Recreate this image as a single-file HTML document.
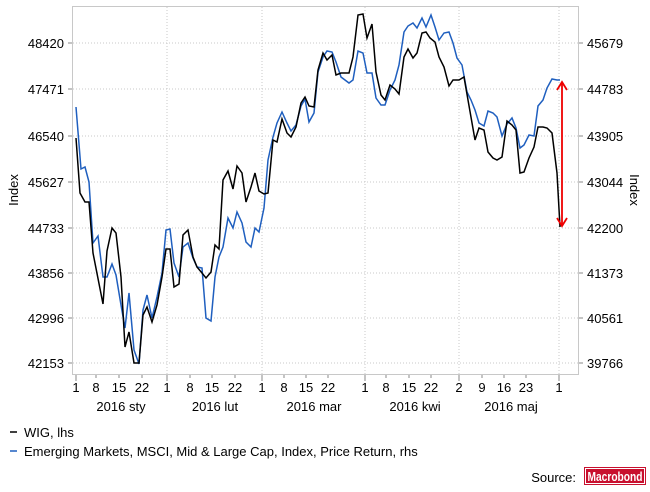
<!DOCTYPE html>
<html><head><meta charset="utf-8"><style>
body{margin:0;background:#fff;}
svg{display:block;font-family:"Liberation Sans",sans-serif;}
</style></head><body>
<svg width="650" height="492" viewBox="0 0 650 492" xmlns="http://www.w3.org/2000/svg">
<rect x="72.5" y="6.5" width="506" height="368" fill="none" stroke="#c8c8c8"/>
<g stroke="#c8c8c8" stroke-dasharray="1,2" fill="none">
<line x1="73" x2="578" y1="43" y2="43"/><line x1="73" x2="578" y1="89" y2="89"/>
<line x1="73" x2="578" y1="136" y2="136"/><line x1="73" x2="578" y1="182" y2="182"/>
<line x1="73" x2="578" y1="228" y2="228"/><line x1="73" x2="578" y1="273" y2="273"/>
<line x1="73" x2="578" y1="318" y2="318"/><line x1="73" x2="578" y1="363" y2="363"/>
<line x1="167" x2="167" y1="7" y2="374"/><line x1="262" x2="262" y1="7" y2="374"/>
<line x1="365" x2="365" y1="7" y2="374"/><line x1="459" x2="459" y1="7" y2="374"/>
<line x1="559" x2="559" y1="7" y2="374"/>
</g>
<g stroke="#888" fill="none">
<path d="M68 43h4M68 89h4M68 136h4M68 182h4M68 228h4M68 273h4M68 318h4M68 363h4"/>
<path d="M579 43h4M579 89h4M579 136h4M579 182h4M579 228h4M579 273h4M579 318h4M579 363h4"/>
<path d="M76 375v6M167 375v6M262 375v6M365 375v6M459 375v6M559 375v6M96 375v3M119 375v3M142 375v3M190 375v3M212 375v3M235 375v3M284 375v3M306 375v3M328 375v3M386 375v3M409 375v3M431 375v3M482 375v3M504 375v3M526 375v3"/>
</g>
<g font-size="13" fill="#000" text-anchor="end">
<text x="64" y="48">48420</text><text x="64" y="94">47471</text><text x="64" y="141">46540</text><text x="64" y="187">45627</text><text x="64" y="233">44733</text><text x="64" y="278">43856</text><text x="64" y="323">42996</text><text x="64" y="368">42153</text>
</g>
<g font-size="13" fill="#000">
<text x="587" y="48">45679</text><text x="587" y="94">44783</text><text x="587" y="141">43905</text><text x="587" y="187">43044</text><text x="587" y="233">42200</text><text x="587" y="278">41373</text><text x="587" y="323">40561</text><text x="587" y="368">39766</text>
</g>
<text font-size="13" transform="translate(18,190) rotate(-90)" text-anchor="middle">Index</text>
<text font-size="13" transform="translate(630,190) rotate(90)" text-anchor="middle">Index</text>
<g font-size="13" text-anchor="middle">
<text x="76" y="392">1</text><text x="96" y="392">8</text><text x="119" y="392">15</text><text x="142" y="392">22</text>
<text x="167" y="392">1</text><text x="190" y="392">8</text><text x="212" y="392">15</text><text x="235" y="392">22</text>
<text x="262" y="392">1</text><text x="284" y="392">8</text><text x="306" y="392">15</text><text x="328" y="392">22</text>
<text x="365" y="392">1</text><text x="386" y="392">8</text><text x="409" y="392">15</text><text x="431" y="392">22</text>
<text x="459" y="392">2</text><text x="482" y="392">9</text><text x="504" y="392">16</text><text x="526" y="392">23</text>
<text x="559" y="392">1</text>
<text x="121" y="411">2016 sty</text><text x="215" y="411">2016 lut</text><text x="314" y="411">2016 mar</text><text x="415" y="411">2016 kwi</text><text x="511" y="411">2016 maj</text>
</g>
<polyline fill="none" stroke="#1f5fbf" stroke-width="1.5" points="76,107 81,169 85,167 89,182 93,243 98,236 103,277 107,277 112,264 116,275 121,305 125,328 129,293 134,350 139,364 143,310 147,295 152,318 157,297 162,273 166,230 170,229 174,263 179,277 183,247 188,243 193,258 197,267 202,268 206,318 211,321 215,277 219,257 223,247 228,218 233,228 237,212 242,223 246,242 251,247 255,228 259,232 264,208 268,160 273,137 277,123 282,112 287,123 291,131 296,125 301,106 305,99 309,122 314,113 318,72 323,57 327,51 332,52 336,62 341,77 349,83 353,80 358,51 363,53 367,73 372,73 376,98 381,105 385,105 390,90 395,80 399,65 404,32 408,26 413,23 417,28 422,18 426,27 431,15 435,27 439,40 444,33 449,32 453,43 457,58 462,65 467,92 471,100 475,110 479,123 484,126 488,111 493,113 497,117 502,136 507,124 512,118 516,128 520,148 524,145 529,135 534,136 538,106 543,100 547,88 552,79 557,80 560,80"/>
<polyline fill="none" stroke="#000" stroke-width="1.5" points="76,138 80,193 85,202 89,202 93,253 103,304 107,251 112,228 116,233 121,277 125,347 129,332 134,363 139,363 143,315 147,307 152,322 157,305 162,277 166,249 170,249 174,287 179,284 183,235 188,230 193,257 197,267 202,273 206,278 211,272 215,245 219,249 223,180 228,171 233,189 237,166 242,173 246,202 251,187 255,173 259,191 264,194 268,193 273,140 277,142 282,119 287,133 291,137 296,127 301,103 305,97 309,106 314,107 318,70 323,53 327,60 332,55 336,75 341,73 349,73 353,57 358,15 363,14 367,38 372,24 376,72 381,95 385,100 390,85 395,89 399,94 404,57 408,49 413,58 417,53 422,33 426,32 430,38 435,42 439,57 444,67 449,86 453,80 459,80 464,77 468,100 475,140 479,128 484,130 488,152 493,158 497,160 502,157 507,121 512,125 516,130 520,173 524,172 529,158 534,147 538,127 543,127 547,128 552,133 557,173 560,227"/>
<g stroke="#e00" stroke-width="1.8" fill="none">
<line x1="562" y1="83" x2="562" y2="225"/>
<polyline points="557,90 562,82 567,90"/><polyline points="557,218 562,226 567,218"/>
</g>
<line x1="10" y1="432" x2="17" y2="432" stroke="#000" stroke-width="1.5"/>
<text x="24" y="437" font-size="13">WIG, lhs</text>
<line x1="10" y1="451" x2="17" y2="451" stroke="#1f5fbf" stroke-width="1.5"/>
<text x="24" y="456" font-size="13">Emerging Markets, MSCI, Mid &amp; Large Cap, Index, Price Return, rhs</text>
<text x="576" y="482" font-size="13" text-anchor="end">Source:</text>
<rect x="584" y="467" width="62" height="18" fill="#c8102e"/>
<rect x="585.5" y="468.5" width="59" height="15" fill="none" stroke="#fff" stroke-width="1"/>
<text x="615" y="481" font-size="13" font-weight="bold" fill="#fff" text-anchor="middle" textLength="55" lengthAdjust="spacingAndGlyphs">Macrobond</text>
</svg>
</body></html>
